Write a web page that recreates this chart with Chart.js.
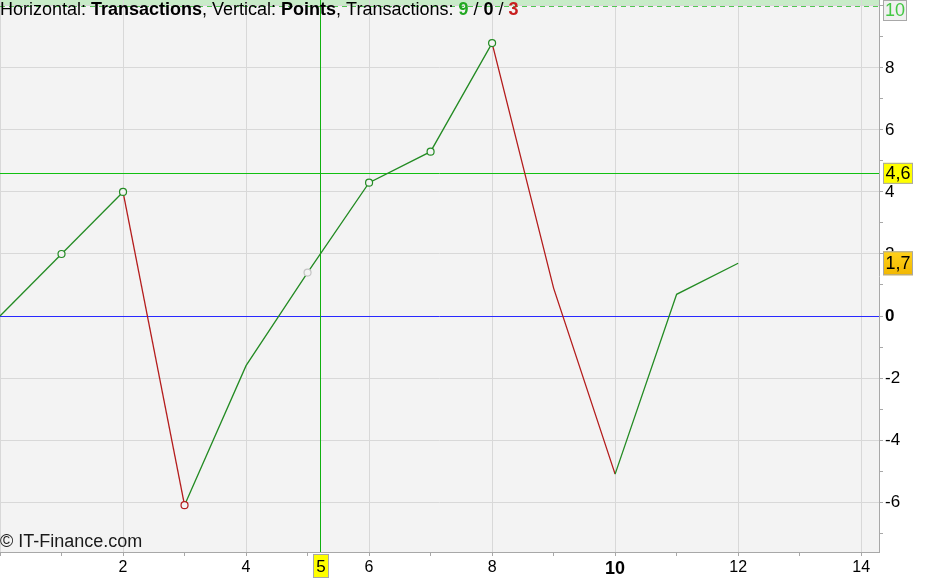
<!DOCTYPE html>
<html>
<head>
<meta charset="utf-8">
<title>Transactions / Points</title>
<script src="https://cdn.jsdelivr.net/npm/chart.js@4.4.1/dist/chart.umd.min.js"></script>
<style>
    html, body { margin: 0; padding: 0; background: #fff; }
    canvas { display: block; }
</style>
</head>
<body>
<canvas id="pointsChart" width="928" height="579"></canvas>
<script>
// 交易序号（横轴）
const transactions = [0, 1, 2, 3, 4, 5, 6, 7, 8, 9, 10, 11, 12];
// 累计点数（纵轴）
const points = [0, 2.0, 4.0, -6.1, -1.6, 1.4, 4.3, 5.3, 8.8, 0.9, -5.1, 0.7, 1.7];
// 标记：g 绿圈，r 红圈，n 灰圈，'' 无
const markers = ['', 'g', 'g', 'r', '', 'n', 'g', 'g', 'g', '', '', '', ''];
// 交易统计：盈 / 平 / 亏
const tradeCounts = [9, 0, 3];
// 参考线
const levelValue = 4.6;
const zeroValue = 0;
const topValue = 10;
const lastValue = 1.7;
// 十字线
const crossValue = 5.2;
const crossLabel = '5';

const FONT = "'Liberation Sans', Arial, sans-serif";
const UP = '#238b23';
const DOWN = '#b41c1c';
const markerColor = { g: '#238b23', r: '#b41c1c', n: '#c4c4c4' };

// 格式化数值（逗号小数）
function formatValue(v) {
    return v.toFixed(1).replace('.', ',');
}

// 画右侧/底部的标签框
function drawTag(ctx, text, left, top, w, h, fill, color) {
    ctx.fillStyle = fill;
    ctx.fillRect(left, top, w, h);
    ctx.strokeStyle = '#a8a8a8';
    ctx.lineWidth = 1;
    ctx.strokeRect(left + 0.5, top + 0.5, w - 1, h - 1);
    ctx.fillStyle = color;
    ctx.textAlign = 'center';
    ctx.textBaseline = 'middle';
    ctx.fillText(text, left + w / 2, top + h / 2 + 1);
}

const decorPlugin = {
    id: 'decor',
    beforeDraw(chart) {
        const { ctx, chartArea: a, scales: { y } } = chart;
        ctx.save();
        ctx.fillStyle = '#f3f3f3';
        ctx.fillRect(a.left, a.top, a.right - a.left, a.bottom - a.top);
        // 顶部绿色区域
        const yTop = y.getPixelForValue(topValue);
        ctx.fillStyle = '#c8ebc8';
        ctx.fillRect(a.left, a.top, a.right - a.left, yTop - a.top);
        ctx.restore();
    },
    beforeDatasetsDraw(chart) {
        const { ctx, chartArea: a, scales: { x, y } } = chart;
        ctx.save();
        ctx.lineWidth = 1;

        // 虚线 10
        const yTop = Math.round(y.getPixelForValue(topValue)) + 0.5;
        ctx.strokeStyle = '#4fc94f';
        ctx.setLineDash([5, 4]);
        ctx.beginPath();
        ctx.moveTo(a.left, yTop);
        ctx.lineTo(a.right, yTop);
        ctx.stroke();
        ctx.setLineDash([]);

        // 零线
        const yZero = Math.round(y.getPixelForValue(zeroValue)) + 0.5;
        ctx.strokeStyle = '#2828ff';
        ctx.beginPath();
        ctx.moveTo(a.left, yZero);
        ctx.lineTo(a.right, yZero);
        ctx.stroke();

        // 水平线 4,6
        const yLevel = Math.round(y.getPixelForValue(levelValue)) + 0.5;
        ctx.strokeStyle = '#10c010';
        ctx.beginPath();
        ctx.moveTo(a.left, yLevel);
        ctx.lineTo(a.right, yLevel);
        ctx.stroke();

        // 十字线
        const xc = Math.round(x.getPixelForValue(crossValue)) + 0.5;
        ctx.strokeStyle = '#10b010';
        ctx.beginPath();
        ctx.moveTo(xc, a.top);
        ctx.lineTo(xc, a.bottom);
        ctx.stroke();
        ctx.restore();
    },
    afterDraw(chart) {
        const { ctx, chartArea: a, scales: { x, y } } = chart;
        ctx.save();

        // 右侧数值标签
        ctx.font = '18px ' + FONT;
        const tagLeft = a.right + 4;
        const y10 = y.getPixelForValue(topValue);
        drawTag(ctx, String(topValue), tagLeft, Math.max(0, y10 - 10.5), 24, 21, '#f0f0f0', '#44c844');
        const yL = y.getPixelForValue(levelValue);
        drawTag(ctx, formatValue(levelValue), tagLeft, yL - 10.5, 30, 21, '#ffff00', '#000');
        const yV = y.getPixelForValue(lastValue);
        const grad = ctx.createLinearGradient(0, yV - 12, 0, yV + 12);
        grad.addColorStop(0, '#ffd21a');
        grad.addColorStop(1, '#f2b700');
        drawTag(ctx, formatValue(lastValue), tagLeft, yV - 12, 30, 24, grad, '#000');

        // 底部十字线标签
        ctx.font = '17px ' + FONT;
        const xc = x.getPixelForValue(crossValue);
        drawTag(ctx, crossLabel, Math.round(xc) - 7, a.bottom + 2, 16, 24, '#ffff00', '#000');

        // 水印
        ctx.font = '18px ' + FONT;
        ctx.fillStyle = '#1a1a1a';
        ctx.textAlign = 'left';
        ctx.textBaseline = 'alphabetic';
        ctx.fillText('\u00a9 IT-Finance.com', a.left, a.bottom - 5);

        // 标题（混合字重）
        const parts = [
            ['Horizontal: ', 'normal', '#000'],
            ['Transactions', 'bold', '#000'],
            [', Vertical: ', 'normal', '#000'],
            ['Points', 'bold', '#000'],
            [', Transactions: ', 'normal', '#000'],
            [String(tradeCounts[0]), 'bold', '#22a822'],
            [' / ', 'normal', '#000'],
            [String(tradeCounts[1]), 'bold', '#000'],
            [' / ', 'normal', '#000'],
            [String(tradeCounts[2]), 'bold', '#c81e1e']
        ];
        let tx = a.left;
        parts.forEach(p => {
            ctx.font = p[1] + ' 18px ' + FONT;
            ctx.fillStyle = p[2];
            ctx.fillText(p[0], tx, 15);
            tx += ctx.measureText(p[0]).width;
        });
        ctx.restore();
    }
};

// 网格只画偶数位置
function gridColor(c) {
    if (!c.tick) return 'rgba(0,0,0,0)';
    return Math.abs(c.tick.value % 2) < 1e-9 ? '#d8d8d8' : 'rgba(0,0,0,0)';
}

const chartData = transactions.map((t, i) => ({ x: t, y: points[i] }));

new Chart(document.getElementById('pointsChart').getContext('2d'), {
    type: 'line',
    data: {
        datasets: [{
            data: chartData,
            borderWidth: 1.3,
            segment: {
                borderColor: c => (c.p1.parsed.y >= c.p0.parsed.y ? UP : DOWN)
            },
            borderColor: UP,
            tension: 0,
            pointRadius: markers.map(m => (m ? 3.5 : 0)),
            pointBorderColor: markers.map(m => markerColor[m] || UP),
            pointBackgroundColor: '#f3f3f3',
            pointBorderWidth: 1.2
        }]
    },
    options: {
        responsive: false,
        animation: false,
        events: [],
        layout: { padding: 0 },
        plugins: {
            legend: { display: false },
            tooltip: { enabled: false }
        },
        scales: {
            x: {
                type: 'linear',
                min: 0,
                max: 14.29,
                afterFit: s => {
                    s.height = 27;
                    s.paddingLeft = 0;
                    s.paddingRight = 0;
                },
                border: { color: '#a8a8a8' },
                grid: { color: gridColor, tickColor: '#a8a8a8', tickLength: 4 },
                ticks: {
                    stepSize: 1,
                    includeBounds: false,
                    autoSkip: false,
                    maxRotation: 0,
                    padding: 2,
                    color: '#000',
                    font: c => ({
                        family: FONT,
                        size: c.tick && c.tick.value === 10 ? 18 : 16,
                        weight: c.tick && c.tick.value === 10 ? 'bold' : 'normal'
                    }),
                    callback: v => (v % 2 === 0 && v > 0 ? String(v) : '')
                }
            },
            y: {
                position: 'right',
                min: -7.61,
                max: 10.19,
                afterFit: s => {
                    s.width = 49;
                    s.paddingTop = 0;
                    s.paddingBottom = 0;
                },
                border: { color: '#a8a8a8' },
                grid: { color: gridColor, tickColor: '#a8a8a8', tickLength: 4 },
                ticks: {
                    stepSize: 1,
                    includeBounds: false,
                    autoSkip: false,
                    padding: 2,
                    color: '#000',
                    font: c => ({
                        family: FONT,
                        size: 17,
                        weight: c.tick && c.tick.value === 0 ? 'bold' : 'normal'
                    }),
                    callback: v => (v % 2 === 0 && v !== 10 ? String(v) : '')
                }
            }
        }
    },
    plugins: [decorPlugin]
});
</script>
</body>
</html>
